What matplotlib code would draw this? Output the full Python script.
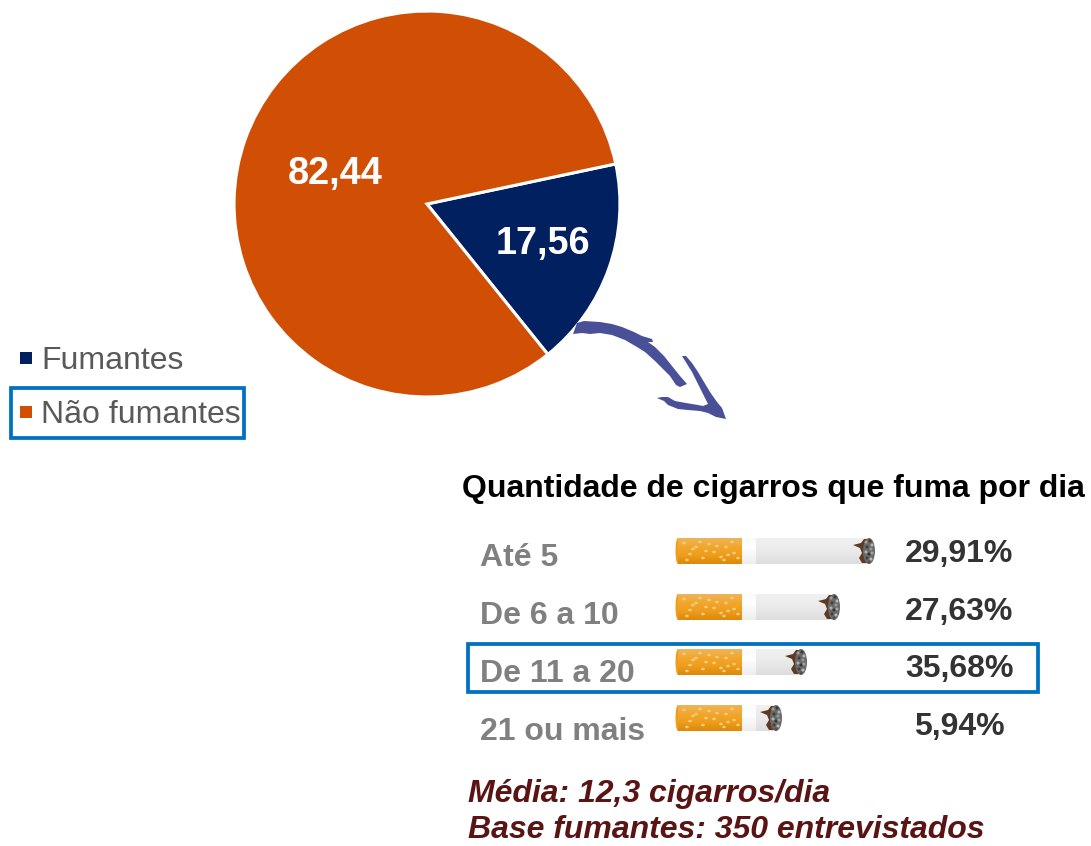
import numpy as np
import matplotlib
matplotlib.use('Agg')
import matplotlib.pyplot as plt
from matplotlib.colors import LinearSegmentedColormap
from matplotlib.patches import Polygon, Rectangle, Ellipse

plt.rcParams['font.family'] = ['Liberation Sans', 'DejaVu Sans']

# Pie data
pie_names = ['Fumantes', 'Não fumantes']
pie_values = [17.56, 82.44]
pie_labels = ['17,56', '82,44']
pie_colors = ['#002060', '#D14E05']

# Cigarette table
row_names = ['Até 5', 'De 6 a 10', 'De 11 a 20', '21 ou mais']
row_values = ['29,91%', '27,63%', '35,68%', '5,94%']
row_tips = [875, 840, 807, 782]   # the drawn cigarette length is not proportional in the source
row_tops = [538, 594, 649, 705]

fig = plt.figure(figsize=(10.91, 8.46), dpi=100)

# Overlay in pixel coordinates of the picture
ax = fig.add_axes([0, 0, 1, 1])
ax.set_xlim(0, 1091)
ax.set_ylim(846, 0)
ax.axis('off')

# Pie
axp = fig.add_axes([235 / 1091, (846 - 396) / 846, 384 / 1091, 384 / 846])
wedges, _ = axp.pie(pie_values, colors=pie_colors, startangle=12, counterclock=False,
                    radius=1.005, wedgeprops={'edgecolor': 'white', 'linewidth': 2.2})
for w in wedges:
    w.set_clip_on(False)
axp.set_xlim(-1, 1)
axp.set_ylim(-1, 1)
ax.set_zorder(2)

ax.text(543, 244, pie_labels[0], color='white', fontsize=27.3, fontweight='bold', ha='center', va='center')
ax.text(335.5, 174, pie_labels[1], color='white', fontsize=27.3, fontweight='bold', ha='center', va='center')

# Legend
for name, color, y in zip(pie_names, pie_colors, [358, 412]):
    ax.add_patch(Rectangle((20, y - 6), 12, 12, color=color, lw=0))
    ax.text(41, y + 3, name, color='#595959', fontsize=23, ha='left', va='center')
ax.add_patch(Rectangle((10.5, 388.5), 233, 50, fill=False, edgecolor='#0070C0', lw=2.7))

# Hand drawn arrow
arrow_body = [(573, 334), (577, 323), (584, 321), (600, 322), (612, 324), (622, 327), (634, 332), (642, 336),
              (652, 339), (653, 342), (648, 342), (655, 347), (664, 356), (672, 366), (680, 376), (687, 384),
              (680, 387), (676, 385), (670, 376), (662, 368), (655, 361), (645, 352), (637, 347), (625, 340),
              (612, 335), (600, 333), (590, 334), (582, 333)]
arrow_head = [(682, 356), (686, 356), (692, 363), (698, 372), (704, 382), (710, 392), (717, 402), (722, 408),
              (726, 419), (716, 417), (708, 413), (700, 411), (688, 410), (678, 409), (668, 405), (664, 401),
              (657, 398), (662, 397), (668, 397), (675, 401), (686, 403), (698, 405), (703, 406), (708, 404),
              (703, 394), (698, 384), (692, 372), (687, 364)]
ax.add_patch(Polygon(arrow_body, closed=True, color='#4A5098', lw=0))
ax.add_patch(Polygon(arrow_head, closed=True, color='#4A5098', lw=0))

# Cigarettes
filter_cmap = LinearSegmentedColormap.from_list('f', ['#EDB45A', '#F2A72C', '#EE9D1C', '#DD8A0C'])
paper_cmap = LinearSegmentedColormap.from_list('p', ['#F0F0F0', '#EDEDED', '#E6E6E6', '#DDDDDD'])
white_cmap = LinearSegmentedColormap.from_list('w', ['#FBFBFB', '#FFFFFF', '#F6F6F6', '#EEEEEE'])
grad = np.linspace(0, 1, 26).reshape(-1, 1)
spots = [(8, 5), (14, 16), (20, 9), (27, 20), (33, 6), (38, 14), (45, 19), (50, 9), (56, 4),
         (58, 15), (11, 22), (24, 4), (41, 8), (48, 22), (62, 20), (30, 13), (17, 11), (52, 17)]
ash_spots = [(-9, 4, '#A0A0A0'), (-5, 3, '#3A3A3A'), (-3, 7, '#B5B5B5'), (-8, 9, '#3F3F3F'), (-4, 11, '#999999'),
             (-9, 14, '#B0B0B0'), (-6, 16, '#333333'), (-3, 15, '#A5A5A5'), (-8, 20, '#404040'), (-4, 21, '#B8B8B8'),
             (-6, 24, '#505050')]

for tip, top in zip(row_tips, row_tops):
    ax.add_patch(Ellipse((678, top + 13), 5, 26, color='#EE9D1C', lw=0, zorder=2))
    ax.imshow(grad, cmap=filter_cmap, extent=(678, 742, top + 26, top), aspect='auto', zorder=2)
    ax.imshow(grad, cmap=white_cmap, extent=(742, 756, top + 26, top), aspect='auto', zorder=2)
    ax.imshow(grad, cmap=paper_cmap, extent=(756, tip - 8, top + 26, top), aspect='auto', zorder=2)
    for dx, dy in spots:
        ax.add_patch(Ellipse((676 + dx, top + dy), 3.5, 2.5, color='#F8CE85', lw=0, zorder=3))
    # scorched edge of the paper
    ax.add_patch(Polygon([(tip - 22, top + 7), (tip - 14, top + 5), (tip - 11, top + 1), (tip - 8, top + 1),
                          (tip - 8, top + 25), (tip - 13, top + 25), (tip - 16, top + 20), (tip - 13, top + 15),
                          (tip - 15, top + 10)],
                         closed=True, color='#5E3A22', lw=0, zorder=3))
    ax.add_patch(Ellipse((tip - 6, top + 13), 12, 26, color='#6A6A6A', lw=0, zorder=4))
    for dx, dy, c in ash_spots:
        ax.add_patch(Ellipse((tip + dx, top + dy), 3, 3, color=c, lw=0, zorder=5))

# Table text
ax.text(462, 489, 'Quantidade de cigarros que fuma por dia', color='black', fontsize=23,
        fontweight='bold', ha='left', va='center')
for name, value, y_name, y_val in zip(row_names, row_values, [558, 616, 674, 732], [554, 612, 669, 727]):
    ax.text(480, y_name, name, color='#808080', fontsize=23, fontweight='bold', ha='left', va='center')
    ax.text(959.5, y_val, value, color='#333333', fontsize=23, fontweight='bold', ha='center', va='center')
ax.add_patch(Rectangle((468, 644), 570, 48.5, fill=False, edgecolor='#0070C0', lw=2.7, zorder=6))

# Notes
ax.text(468, 794, 'Média: 12,3 cigarros/dia', color='#5A1414', fontsize=23, fontweight='bold',
        fontstyle='italic', ha='left', va='center')
ax.text(468, 830.5, 'Base fumantes: 350 entrevistados', color='#5A1414', fontsize=23, fontweight='bold',
        fontstyle='italic', ha='left', va='center')

ax.set_xlim(0, 1091)
ax.set_ylim(846, 0)
fig.savefig('out.png', dpi=100)
